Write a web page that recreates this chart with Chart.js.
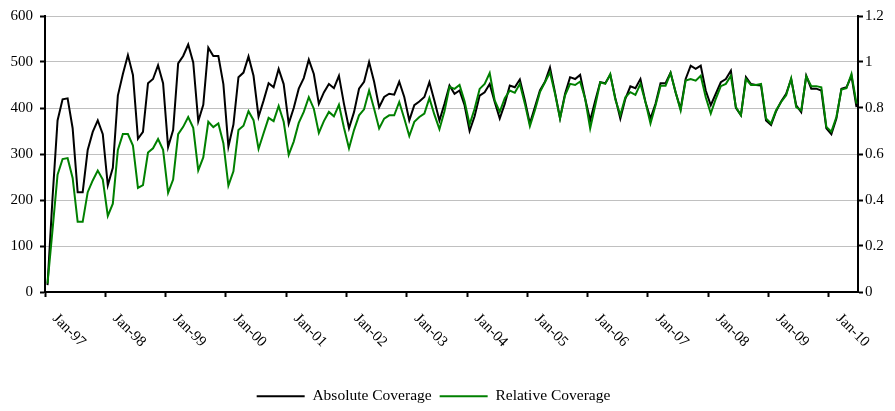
<!DOCTYPE html>
<html>
<head>
<meta charset="utf-8">
<script src="https://cdn.jsdelivr.net/npm/chart.js@4"></script>
<style>
  body { margin: 0; background: #fff; }
  #wrap { width: 895px; height: 411px; }
</style>
</head>
<body>
<div id="wrap"><canvas id="coverageChart"></canvas></div>
<script>
// Tick labels on the time axis (one per January)
const yearLabels = ['Jan-97', 'Jan-98', 'Jan-99', 'Jan-00', 'Jan-01', 'Jan-02', 'Jan-03',
    'Jan-04', 'Jan-05', 'Jan-06', 'Jan-07', 'Jan-08', 'Jan-09', 'Jan-10'];

// Monthly series, Jan 1997 .. Jun 2010
const absoluteCoverage = [
    15, 205, 373, 419, 421, 356, 217, 217, 309, 348, 373, 343,   // 1997
    232, 270, 427, 474, 515, 472, 333, 348, 454, 463, 493, 454,  // 1998
    315, 352, 497, 513, 538, 499, 371, 407, 531, 513, 513, 452,  // 1999
    316, 364, 467, 477, 512, 470, 381, 416, 454, 445, 485, 452,  // 2000
    366, 400, 442, 465, 505, 474, 409, 434, 452, 443, 470, 409,  // 2001
    356, 391, 442, 457, 500, 457, 402, 424, 431, 429, 457, 424,  // 2002
    373, 406, 414, 424, 456, 416, 373, 409, 449, 431, 438, 406,  // 2003
    350, 382, 427, 434, 452, 413, 377, 409, 449, 445, 462, 417,  // 2004
    366, 402, 438, 457, 488, 434, 378, 431, 467, 463, 472, 420,  // 2005
    373, 416, 456, 454, 472, 422, 377, 420, 447, 443, 463, 413,  // 2006
    377, 409, 454, 454, 477, 434, 398, 463, 492, 485, 492, 438,  // 2007
    406, 431, 456, 463, 481, 400, 384, 467, 452, 450, 449, 373,  // 2008
    363, 393, 414, 431, 463, 406, 391, 470, 442, 442, 438, 356,  // 2009
    343, 377, 442, 445, 470, 402                                 // 2010
];

const relativeCoverage = [
    0.037, 0.27, 0.510, 0.578, 0.582, 0.496, 0.305, 0.305, 0.434, 0.485, 0.528, 0.489,
    0.331, 0.384, 0.618, 0.687, 0.687, 0.637, 0.453, 0.465, 0.606, 0.625, 0.665, 0.618,
    0.431, 0.489, 0.686, 0.718, 0.761, 0.714, 0.529, 0.585, 0.740, 0.717, 0.733, 0.647,
    0.463, 0.525, 0.704, 0.723, 0.786, 0.747, 0.622, 0.690, 0.757, 0.743, 0.809, 0.740,
    0.596, 0.654, 0.735, 0.783, 0.847, 0.797, 0.692, 0.743, 0.783, 0.764, 0.814, 0.714,
    0.625, 0.704, 0.768, 0.794, 0.876, 0.797, 0.711, 0.754, 0.768, 0.768, 0.826, 0.754,
    0.678, 0.740, 0.761, 0.776, 0.843, 0.771, 0.708, 0.786, 0.892, 0.883, 0.900, 0.829,
    0.728, 0.797, 0.883, 0.905, 0.952, 0.833, 0.783, 0.843, 0.876, 0.866, 0.905, 0.819,
    0.721, 0.790, 0.869, 0.912, 0.955, 0.862, 0.754, 0.855, 0.905, 0.900, 0.915, 0.840,
    0.711, 0.811, 0.912, 0.905, 0.948, 0.837, 0.769, 0.847, 0.869, 0.857, 0.905, 0.826,
    0.733, 0.811, 0.897, 0.897, 0.952, 0.869, 0.790, 0.919, 0.926, 0.919, 0.940, 0.847,
    0.776, 0.840, 0.895, 0.905, 0.940, 0.804, 0.769, 0.926, 0.900, 0.900, 0.905, 0.754,
    0.733, 0.790, 0.826, 0.855, 0.929, 0.804, 0.790, 0.938, 0.895, 0.895, 0.890, 0.718,
    0.697, 0.761, 0.880, 0.886, 0.948, 0.819
];

const leftTicks = [0, 100, 200, 300, 400, 500, 600];
const rightTicks = [0, 0.2, 0.4, 0.6, 0.8, 1, 1.2];

const serif = 'Liberation Serif, Times New Roman, serif';
const gridGray = '#c0c0c0';

// month index -> point on the date axis (points sit mid-month)
function toPoints(values) {
    return values.map((v, i) => ({ x: i + 0.5, y: v }));
}

// Draw the slanted January labels under the x axis
const slantedLabels = {
    id: 'slantedLabels',
    afterDraw(chart) {
        const xs = chart.scales.x;
        const ctx = chart.ctx;
        ctx.save();
        ctx.font = '15px ' + serif;
        ctx.fillStyle = '#000';
        ctx.textAlign = 'left';
        ctx.textBaseline = 'alphabetic';
        xs.ticks.forEach((t, k) => {
            const px = xs.getPixelForValue(t.value);
            ctx.save();
            ctx.translate(px + 7, chart.chartArea.bottom + 27);
            ctx.rotate(Math.PI / 4);
            ctx.fillText(yearLabels[k], 0, 0);
            ctx.restore();
        });
        ctx.restore();
    }
};

// Excel put the legend a little left of centre
const legendShift = {
    id: 'legendShift',
    afterLayout(chart) {
        chart.legend.left -= 14;
        chart.legend.right -= 14;
    }
};

const ctx = document.getElementById('coverageChart').getContext('2d');
const coverageChart = new Chart(ctx, {
    type: 'line',
    data: {
        datasets: [{
            label: 'Absolute Coverage',
            data: toPoints(absoluteCoverage),
            yAxisID: 'y',
            borderColor: '#000000',
            borderWidth: 2,
            pointRadius: 0,
            tension: 0,
            order: 1
        }, {
            label: 'Relative Coverage',
            data: toPoints(relativeCoverage),
            yAxisID: 'y1',
            borderColor: '#008000',
            borderWidth: 2,
            pointRadius: 0,
            tension: 0,
            order: 0
        }]
    },
    options: {
        responsive: true,
        maintainAspectRatio: false,
        animation: false,
        layout: { padding: { top: 13, bottom: -3, left: 0, right: 0 } },
        plugins: {
            tooltip: { enabled: false },
            legend: {
                position: 'bottom',
                labels: {
                    usePointStyle: true,
                    pointStyle: 'line',
                    pointStyleWidth: 48,
                    color: '#000',
                    padding: 8,
                    font: { family: serif, size: 15.5 },
                    sort: (a, b) => a.datasetIndex - b.datasetIndex
                }
            }
        },
        scales: {
            x: {
                type: 'linear',
                min: 0,
                max: 161.8,
                afterBuildTicks: scale => {
                    scale.ticks = yearLabels.map((_, k) => ({ value: k * 12 }));
                },
                afterFit: scale => { scale.height = 88.5; },
                ticks: { display: false },
                grid: {
                    drawOnChartArea: false,
                    drawTicks: true,
                    tickLength: 5,
                    tickColor: '#000',
                    tickWidth: 2
                },
                border: { color: '#000', width: 2 }
            },
            y: {
                position: 'left',
                min: 0,
                max: 600,
                afterBuildTicks: scale => {
                    scale.ticks = leftTicks.map(v => ({ value: v }));
                },
                afterFit: scale => { scale.width = 45; },
                ticks: {
                    color: '#000',
                    padding: 7,
                    font: { family: serif, size: 15 }
                },
                grid: {
                    color: c => (c.tick && c.tick.value === 0) ? 'rgba(0,0,0,0)' : gridGray,
                    lineWidth: 1,
                    tickLength: 5,
                    tickColor: '#000',
                    tickWidth: 2
                },
                border: { color: '#000', width: 2 }
            },
            y1: {
                position: 'right',
                min: 0,
                max: 1.2,
                afterBuildTicks: scale => {
                    scale.ticks = rightTicks.map(v => ({ value: v }));
                },
                afterFit: scale => { scale.width = 37; },
                ticks: {
                    color: '#000',
                    padding: 2,
                    font: { family: serif, size: 15 },
                    callback: v => String(Math.round(v * 10) / 10)
                },
                grid: {
                    drawOnChartArea: false,
                    tickLength: 5,
                    tickColor: '#000',
                    tickWidth: 2
                },
                border: { color: '#000', width: 2 }
            }
        }
    },
    plugins: [slantedLabels, legendShift]
});
</script>
</body>
</html>
